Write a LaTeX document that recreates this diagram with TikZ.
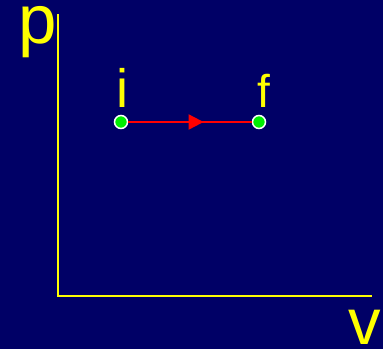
\documentclass[tikz,border=0pt]{standalone}
\usepackage{fontspec}
\setmainfont{Liberation Sans}
\usetikzlibrary{arrows.meta,decorations.markings}

\definecolor{navybg}{HTML}{000066}
\definecolor{axisyellow}{HTML}{FFFF00}
\definecolor{stategreen}{HTML}{00EE00}

\begin{document}
\begin{tikzpicture}[
  x=1pt, y=-1pt,
  axis/.style={draw=axisyellow, line width=2pt},
  axislabel/.style={text=axisyellow, anchor=base, inner sep=0pt},
  state/.style={circle, draw=white, line width=1.5pt, fill=stategreen, minimum size=13pt, inner sep=0pt},
  process/.style={draw=red, line width=2pt, postaction={decorate},
    decoration={markings, mark=at position 0.61 with {\arrow{Triangle[length=15pt,width=15pt]}}}}
]

% background and frame
\fill[navybg] (0,0) rectangle (383,349);
\useasboundingbox (0,0) rectangle (383,349);

% axes
\coordinate (o) at (58,296);
\coordinate (ptop) at (58,14);
\coordinate (vend) at (372,296);
\draw[axis] (ptop) -- (o) -- (vend);
\node[axislabel, font=\fontsize{69}{69}\selectfont] (plabel) at (38,43) {p};
\node[axislabel, font=\fontsize{65}{65}\selectfont] (vlabel) at (365,344) {v};

% states
\node[state] (i) at (121,122) {};
\node[state] (f) at (259,122) {};
\node[axislabel, font=\fontsize{54}{54}\selectfont] (ilabel) at (122,107) {i};
\node[axislabel, font=\fontsize{46}{46}\selectfont] (flabel) at (264,107) {f};

% process
\draw[process] (i) -- (f);

\end{tikzpicture}
\end{document}
